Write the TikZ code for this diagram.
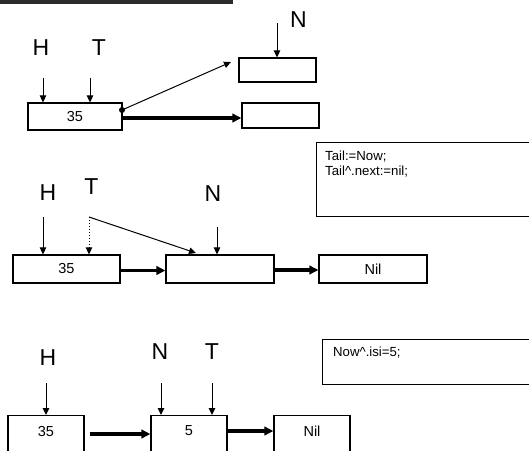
\documentclass[tikz,border=0pt]{standalone}
\usepackage{fontspec}
\setmainfont{Liberation Sans}
\usetikzlibrary{arrows.meta}
\begin{document}
\begin{tikzpicture}[x=1pt,y=-1pt,
  box/.style={draw, line width=1.2pt, inner sep=0pt, font=\fontsize{14.5}{17}\selectfont},
  frame/.style={draw, line width=1.2pt, inner sep=0pt, anchor=north west},
  lbl/.style={font=\fontsize{23}{26}\selectfont, inner sep=0pt},
  code/.style={font=\fontsize{13.2}{15}\selectfont, inner sep=0pt, anchor=west},
  val/.style={font=\fontsize{14.5}{17}\selectfont, inner sep=0pt},
  ptr/.style={line width=1pt, -{Triangle[length=7pt,width=6.5pt]}},
  link/.style={line width=3.3pt, -{Triangle[length=9pt,width=8.5pt]}},
]
\useasboundingbox (0,0) rectangle (529,450);
\clip (0,0) rectangle (529,450);
\fill[black!83] (0,0) rectangle (233,4.3);

% ---------- section 1 ----------
\node[box, minimum width=94, minimum height=27] (b1a) at (75,116.5) {35};
\node[box, minimum width=77, minimum height=24] (b1n) at (277.5,70) {};
\node[box, minimum width=77, minimum height=25] (b1b) at (280.5,115.5) {};
\node[lbl] (h1) at (41,48) {H};
\node[lbl] (t1) at (99,48) {T};
\node[lbl] (n1) at (298.5,20) {N};
\coordinate (h1s) at (43,78);
\coordinate (t1s) at (90,78);
\coordinate (n1s) at (277,23);
\draw[ptr] (h1s) -- (h1s |- b1a.north);
\draw[ptr] (t1s) -- (t1s |- b1a.north);
\draw[ptr] (n1s) -- (n1s |- b1n.north);
\coordinate (dot1) at (122,110);
\coordinate (d1e) at (231,62);
\fill (dot1) circle (3);
\draw[ptr] (dot1) -- (d1e);
\draw[link] (b1a.east |- 0,118) -- (b1b.west |- 0,118);

% ---------- section 2 ----------
\node[frame, minimum width=260, minimum height=74] (tb1) at (316,142) {};
\node[code] (c1) at (325,157) {Tail:=Now;};
\node[code] (c2) at (325,172) {Tail\^{}.next:=nil;};
\node[box, minimum width=107, minimum height=28] (b2a) at (66.5,269) {35};
\node[box, minimum width=108, minimum height=28] (b2b) at (220,269) {};
\node[box, minimum width=108, minimum height=28] (b2c) at (373,269) {Nil};
\node[lbl] (h2) at (48,192.5) {H};
\node[lbl] (t2) at (91.5,186.5) {T};
\node[lbl] (n2) at (213,194) {N};
\coordinate (h2s) at (43,217);
\coordinate (t2s) at (89,217);
\coordinate (n2s) at (217,227);
\coordinate (t2e) at (196,253);
\draw[ptr] (h2s) -- (h2s |- b2a.north);
\draw[ptr, dotted] (t2s) -- (t2s |- b2a.north);
\draw[ptr] (n2s) -- (n2s |- b2b.north);
\draw[ptr] (t2s) -- (t2e);
\draw[link] (b2a.east |- 0,270.5) -- (b2b.west |- 0,270.5);
\draw[link] (b2b.east |- 0,270) -- (b2c.west |- 0,270);

% ---------- section 3 ----------
\node[frame, minimum width=260, minimum height=45] (tb2) at (322,339) {};
\node[code] (c3) at (333,353) {Now\^{}.isi=5;};
\node[box, minimum width=76, minimum height=50, anchor=north] (b3a) at (46,415) {};
\node[box, minimum width=76, minimum height=50, anchor=north] (b3b) at (189,415) {};
\node[box, minimum width=76, minimum height=50, anchor=north] (b3c) at (312,415) {};
\node[val] (v3a) at (46,431) {35};
\node[val] (v3b) at (189,431) {5};
\node[val] (v3c) at (312,431) {Nil};
\node[lbl] (h3) at (48,358) {H};
\node[lbl] (n3) at (160,352) {N};
\node[lbl] (t3) at (212,352) {T};
\coordinate (h3s) at (46,383);
\coordinate (n3s) at (161,383);
\coordinate (t3s) at (212,383);
\draw[ptr] (h3s) -- (h3s |- b3a.north);
\draw[ptr] (n3s) -- (n3s |- b3b.north);
\draw[ptr] (t3s) -- (t3s |- b3b.north);
\coordinate (l3s) at (90,434);
\draw[link] (l3s) -- (b3b.west |- l3s);
\draw[link] (b3b.east |- 0,431) -- (b3c.west |- 0,431);
\end{tikzpicture}
\end{document}
